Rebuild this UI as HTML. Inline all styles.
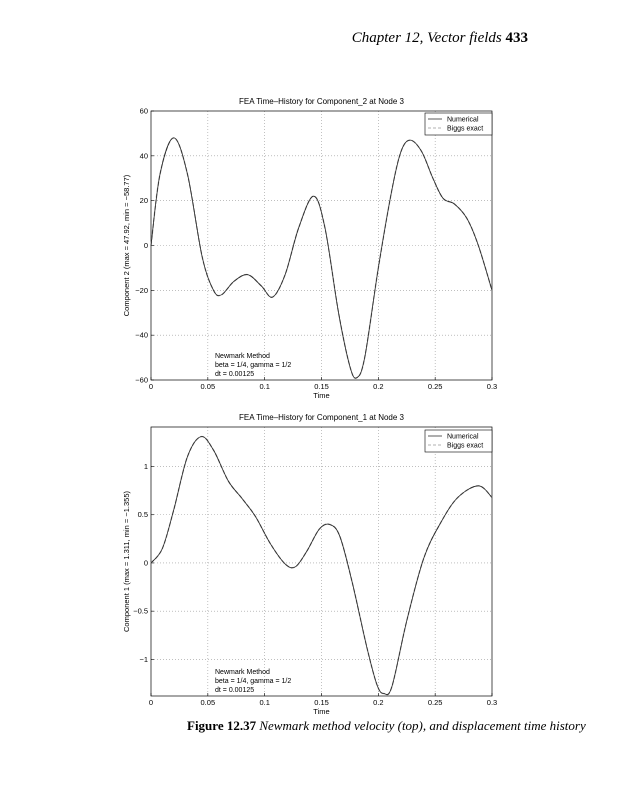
<!DOCTYPE html>
<html><head><style>
body{margin:0;background:#fff;width:617px;height:800px;overflow:hidden;position:relative}
svg{position:absolute;left:0;top:0}
</style></head><body>
<svg width="617" height="800" font-family="Liberation Sans, sans-serif">
<text x="528" y="42" text-anchor="end" font-family="Liberation Serif, serif" font-size="15"><tspan font-style="italic">Chapter 12, Vector fields</tspan> <tspan font-weight="bold">433</tspan></text>
<text x="187" y="730" font-family="Liberation Serif, serif" font-size="13"><tspan font-weight="bold">Figure 12.37</tspan> <tspan font-style="italic">Newmark method velocity (top), and displacement time history</tspan></text>
<g id="g1"></g><g id="g2"></g>
</svg>
<script>
function plot(g,o){
 const X0=151,X1=492,Y0=o.top,Y1=o.bot;
 const sx=t=>X0+(t/0.3)*(X1-X0), sy=v=>Y0+(o.ymax-v)/(o.ymax-o.ymin)*(Y1-Y0);
 let s='';
 s+=`<text x="${(X0+X1)/2}" y="${Y0-7}" text-anchor="middle" font-size="8">${o.title}</text>`;
 for(let i=0;i<=6;i++){const t=i*0.05,x=sx(t);
  if(i>0&&i<6)s+=`<line x1="${x}" y1="${Y0}" x2="${x}" y2="${Y1}" stroke="#999" stroke-width="0.6" stroke-dasharray="1,2"/>`;
  s+=`<line x1="${x}" y1="${Y1}" x2="${x}" y2="${Y1-3}" stroke="#000" stroke-width="0.6"/>`;
  s+=`<text x="${x}" y="${Y1+9}" text-anchor="middle" font-size="7.5">${['0','0.05','0.1','0.15','0.2','0.25','0.3'][i]}</text>`;}
 o.yt.forEach(([v,l])=>{const y=sy(v);
  if(y>Y0+1&&y<Y1-1)s+=`<line x1="${X0}" y1="${y}" x2="${X1}" y2="${y}" stroke="#999" stroke-width="0.6" stroke-dasharray="1,2"/>`;
  s+=`<line x1="${X0}" y1="${y}" x2="${X0+3}" y2="${y}" stroke="#000" stroke-width="0.6"/>`;
  s+=`<text x="${X0-3}" y="${y+2.5}" text-anchor="end" font-size="7.5">${l}</text>`;});
 s+=`<rect x="${X0}" y="${Y0}" width="${X1-X0}" height="${Y1-Y0}" fill="none" stroke="#000" stroke-width="0.7"/>`;
 s+=`<text x="${(X0+X1)/2}" y="${Y1+18}" text-anchor="middle" font-size="7.5">Time</text>`;
 s+=`<text transform="translate(${X0-22},${(Y0+Y1)/2}) rotate(-90)" text-anchor="middle" font-size="7.5">${o.ylabel}</text>`;
 const P=o.pts.map(([t,v])=>[sx(t),sy(v)]);
 let d=`M${P[0][0]},${P[0][1]}`;
 for(let i=0;i<P.length-1;i++){const p0=P[i-1]||P[i],p1=P[i],p2=P[i+1],p3=P[i+2]||P[i+1];
  d+=` C${p1[0]+(p2[0]-p0[0])/6},${p1[1]+(p2[1]-p0[1])/6} ${p2[0]-(p3[0]-p1[0])/6},${p2[1]-(p3[1]-p1[1])/6} ${p2[0]},${p2[1]}`;}
 s+=`<path d="${d}" fill="none" stroke="#aaa" stroke-width="1.4" stroke-dasharray="4,2"/>`;
 s+=`<path d="${d}" fill="none" stroke="#222" stroke-width="0.8"/>`;
 const ly=o.leg;
 s+=`<rect x="425" y="${ly}" width="67" height="22" fill="#fff" stroke="#000" stroke-width="0.6"/>`;
 s+=`<line x1="428" y1="${ly+6}" x2="442" y2="${ly+6}" stroke="#333" stroke-width="0.8"/><text x="447" y="${ly+8.5}" font-size="7">Numerical</text>`;
 s+=`<line x1="428" y1="${ly+15}" x2="442" y2="${ly+15}" stroke="#999" stroke-width="0.8" stroke-dasharray="3,2"/><text x="447" y="${ly+17.5}" font-size="7">Biggs exact</text>`;
 s+=`<text x="215" y="${Y1-22}" font-size="7">Newmark Method</text><text x="215" y="${Y1-13}" font-size="7">beta = 1/4, gamma = 1/2</text><text x="215" y="${Y1-4}" font-size="7">dt = 0.00125</text>`;
 document.getElementById(g).innerHTML=s;}
plot('g1',{top:111,bot:380,ymax:60,ymin:-60,title:'FEA Time\u2013History for Component_2 at Node 3',
 ylabel:'Component 2 (max = 47.92, min = \u221258.77)',leg:113,
 yt:[[60,'60'],[40,'40'],[20,'20'],[0,'0'],[-20,'\u221220'],[-40,'\u221240'],[-60,'\u221260']],
 pts:[[0,0],[0.008,32],[0.02,48],[0.032,32],[0.045,-5],[0.055,-20],[0.062,-22],[0.073,-16],[0.085,-13],[0.097,-18],[0.107,-23],[0.118,-13],[0.13,8],[0.143,22],[0.153,8],[0.165,-30],[0.175,-54],[0.181,-59],[0.188,-50],[0.2,-10],[0.212,25],[0.22,42],[0.228,47],[0.238,42],[0.248,30],[0.257,21],[0.267,18.5],[0.278,12],[0.288,0],[0.3,-20]]});
plot('g2',{top:427,bot:696,ymax:1.41,ymin:-1.38,title:'FEA Time\u2013History for Component_1 at Node 3',
 ylabel:'Component 1 (max = 1.311, min = \u22121.355)',leg:430,
 yt:[[1,'1'],[0.5,'0.5'],[0,'0'],[-0.5,'\u22120.5'],[-1,'\u22121']],
 pts:[[0,0],[0.01,0.15],[0.02,0.55],[0.032,1.1],[0.044,1.31],[0.055,1.17],[0.068,0.85],[0.08,0.67],[0.092,0.48],[0.105,0.2],[0.118,-0.01],[0.127,-0.04],[0.137,0.12],[0.148,0.35],[0.157,0.4],[0.166,0.28],[0.177,-0.2],[0.19,-0.88],[0.199,-1.27],[0.205,-1.355],[0.212,-1.28],[0.225,-0.6],[0.24,0.05],[0.255,0.42],[0.27,0.68],[0.288,0.8],[0.3,0.68]]});
</script>
</body></html>
